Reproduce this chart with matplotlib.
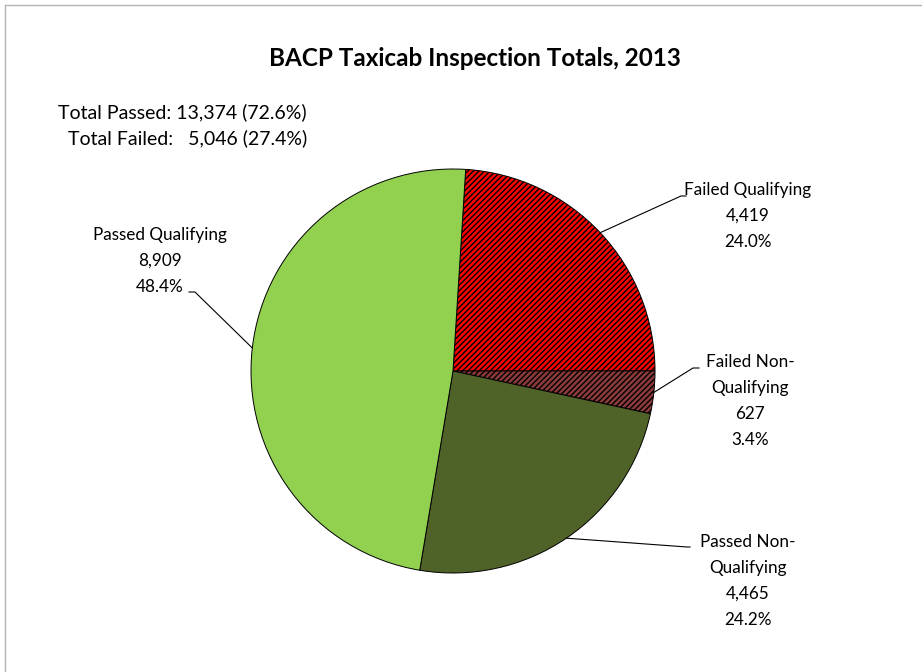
import numpy as np
import matplotlib
matplotlib.use('Agg')
import matplotlib.pyplot as plt
from matplotlib.lines import Line2D

plt.rcParams['font.family'] = ['Lato', 'DejaVu Sans']
plt.rcParams['hatch.linewidth'] = 1.0

# data
categories = ['Failed Qualifying', 'Failed Non-\nQualifying', 'Passed Non-\nQualifying', 'Passed Qualifying']
counts = [4419, 627, 4465, 8909]
colours = ['#ff0000', '#8c3a3a', '#4f6228', '#92d050']
hatches = ['//////', '//////', None, None]
total_passed = 13374
total_failed = 5046

W, H = 922, 672
def Y(y):
    return H - y

fig = plt.figure(figsize=(9.22, 6.72), dpi=100)
ax = fig.add_axes([0, 0, 1, 1])

cx, cy, r = 453, Y(371), 202
wedges, _ = ax.pie(counts, colors=colours, startangle=86.4, counterclock=False,
                   center=(cx, cy), radius=r,
                   wedgeprops=dict(edgecolor='black', linewidth=0.7))
for w, h in zip(wedges, hatches):
    if h:
        w.set_hatch(h)

ax.set_xlim(0, W)
ax.set_ylim(0, H)
ax.set_aspect('equal')
ax.axis('off')

total = sum(counts)

# label positions (pixel coords) and leader line bends
label_xy = [(748, 216), (750, 401), (748, 581), (160, 261)]
leader_pts = [[(681, 196), (686, 196)],
              [(693, 368), (699, 368)],
              [(687, 547), (690, 547)],
              [(195, 292), (189, 292)]]

for w, name, n, (lx, ly), pts in zip(wedges, categories, counts, label_xy, leader_pts):
    ax.text(lx, Y(ly), f"{name}\n{n:,}\n{100 * n / total:.1f}%",
            ha='center', va='center', fontsize=12.3, linespacing=1.75, color='black')
    mid = np.deg2rad((w.theta1 + w.theta2) / 2)
    xs = [cx + r * np.cos(mid)] + [p[0] for p in pts]
    ys = [cy + r * np.sin(mid)] + [Y(p[1]) for p in pts]
    ax.plot(xs, ys, color='black', linewidth=0.8)

ax.text(475, Y(58), 'BACP Taxicab Inspection Totals, 2013', ha='center', va='center',
        fontsize=17.5, fontweight='bold')

ax.text(307, Y(125),
        f"Total Passed: {total_passed:,} ({100 * total_passed / total:.1f}%)\n"
        f"Total Failed:   {total_failed:,} ({100 * total_failed / total:.1f}%)",
        ha='right', va='center', multialignment='right', fontsize=14, linespacing=1.55)

# chart frame
fig.add_artist(Line2D([5 / W, 1], [Y(5) / H, Y(5) / H], color='#b4b4b4', linewidth=1))
fig.add_artist(Line2D([5 / W, 5 / W], [Y(5) / H, 0], color='#b4b4b4', linewidth=1))

plt.savefig('out.png', dpi=100)
